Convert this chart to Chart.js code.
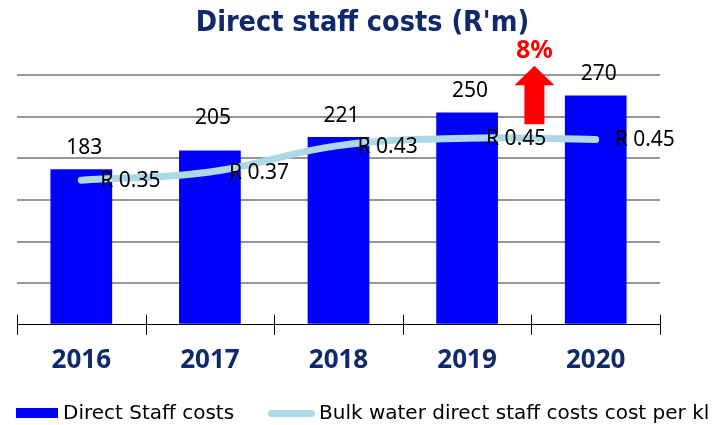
<!DOCTYPE html>
<html>
<head>
<meta charset="utf-8">
<title>Direct staff costs</title>
<script src="https://cdn.jsdelivr.net/npm/chart.js@4.4.0/dist/chart.umd.min.js"></script>
<style>
    html, body { margin: 0; padding: 0; background: #fff; }
    #wrap { position: relative; width: 716px; height: 425px; overflow: hidden; }
    .legend-text { position: absolute; top: 402px; font: 20px 'DejaVu Sans', sans-serif; line-height: 20px; color: #000; white-space: nowrap; }
    .swatch { position: absolute; }
</style>
</head>
<body>
<div id="wrap">
    <canvas id="staffChart" width="716" height="425"></canvas>
    <div id="legend"></div>
</div>
<script>
// Chart data
const years = ['2016', '2017', '2018', '2019', '2020'];
const staffCosts = [183, 205, 221, 250, 270];          // R'm
const costPerKl = [0.35, 0.37, 0.434, 0.452, 0.449];   // R per kl
const growthLabel = '8%';

const navy = '#10296a';
const barBlue = '#0000ff';
const lineBlue = '#add8e6';

// Draws value labels, the growth arrow and the crossing x tick marks
const annotations = {
    id: 'annotations',
    afterDatasetsDraw(chart, args, opts) {
        const ctx = chart.ctx;
        const x = chart.scales.x;
        const y = chart.scales.y;
        const area = chart.chartArea;

        ctx.save();
        ctx.fillStyle = '#000';
        ctx.font = "21px 'Noto Sans', sans-serif";

        // bar values
        const bars = chart.getDatasetMeta(1).data;
        ctx.textAlign = 'center';
        ctx.textBaseline = 'alphabetic';
        bars.forEach((bar, i) => {
            ctx.fillText(String(staffCosts[i]), bar.x + 3, bar.y - 15 - opts.barLift[i]);
        });

        // line values
        const points = chart.getDatasetMeta(0).data;
        ctx.textAlign = 'left';
        ctx.textBaseline = 'middle';
        points.forEach((pt, i) => {
            ctx.fillText('R ' + costPerKl[i].toFixed(2), pt.x + 19, pt.y + 1);
        });

        // growth arrow between the last two years
        const cx = x.getPixelForValue(years.length - 1.5) + 3;
        const tip = y.getPixelForValue(opts.arrowTop);
        const neck = y.getPixelForValue(opts.arrowNeck);
        const foot = y.getPixelForValue(opts.arrowBottom);
        ctx.fillStyle = '#ff0000';
        ctx.beginPath();
        ctx.moveTo(cx, tip);
        ctx.lineTo(cx + 20, neck);
        ctx.lineTo(cx + 10, neck);
        ctx.lineTo(cx + 10, foot);
        ctx.lineTo(cx - 10, foot);
        ctx.lineTo(cx - 10, neck);
        ctx.lineTo(cx - 20, neck);
        ctx.closePath();
        ctx.fill();

        ctx.font = "bold 25px 'Noto Sans', sans-serif";
        ctx.textAlign = 'center';
        ctx.textBaseline = 'alphabetic';
        ctx.fillText(growthLabel, cx, tip - 8);

        // tick marks crossing the axis at category boundaries
        ctx.strokeStyle = '#000';
        ctx.lineWidth = 1;
        const step = (area.right - area.left) / years.length;
        for (let i = 0; i <= years.length; i++) {
            const tx = Math.round(area.left + i * step) + 0.5;
            ctx.beginPath();
            ctx.moveTo(tx, area.bottom - 10);
            ctx.lineTo(tx, area.bottom + 10);
            ctx.stroke();
        }
        ctx.restore();
    }
};

const config = {
    data: {
        labels: years,
        datasets: [
            {
                type: 'line',
                label: 'Bulk water direct staff costs cost per kl',
                data: costPerKl,
                yAxisID: 'y2',
                borderColor: lineBlue,
                backgroundColor: lineBlue,
                borderWidth: 7,
                borderCapStyle: 'round',
                tension: 0.4,
                pointRadius: 0,
                order: 0
            },
            {
                type: 'bar',
                label: 'Direct Staff costs',
                data: staffCosts,
                yAxisID: 'y',
                backgroundColor: barBlue,
                barPercentage: 0.48,
                categoryPercentage: 1,
                order: 1
            }
        ]
    },
    options: {
        responsive: false,
        animation: false,
        devicePixelRatio: 1,
        layout: {
            padding: { left: 17, right: 8, top: 0, bottom: 29 }
        },
        plugins: {
            legend: { display: false },
            tooltip: { enabled: false },
            title: {
                display: true,
                text: "Direct staff costs (R'm)",
                color: navy,
                font: { family: "'DejaVu Sans Condensed', 'DejaVu Sans', sans-serif", size: 28.5, weight: 'bold' },
                padding: { top: 6, bottom: 34.8 }
            },
            annotations: {
                barLift: [0, 12, 0, 0, 0],
                arrowTop: 305,
                arrowNeck: 282,
                arrowBottom: 236
            }
        },
        scales: {
            x: {
                offset: true,
                grid: { display: false, drawTicks: false },
                border: { display: true, color: '#000', width: 1 },
                ticks: {
                    color: navy,
                    padding: 20,
                    font: { family: "'Noto Sans', sans-serif", size: 26, weight: 'bold' }
                }
            },
            y: {
                min: 0,
                max: 294,
                ticks: { display: false, stepSize: 49 },
                grid: {
                    color: c => c.tick && c.tick.value === 0 ? 'rgba(0,0,0,0)' : '#969696',
                    lineWidth: 2,
                    drawTicks: false
                },
                border: { display: false }
            },
            y2: {
                position: 'right',
                min: 0,
                max: 0.605,
                ticks: { display: false },
                grid: { display: false, drawTicks: false },
                border: { display: false },
                afterFit: scale => { scale.width = 48; }  // blank room on the right for the last label
            }
        }
    },
    plugins: [annotations]
};

const chart = new Chart(document.getElementById('staffChart'), config);

// Legend below the chart
function buildLegend() {
    const legend = document.getElementById('legend');
    legend.innerHTML =
        '<div class="swatch" style="left:16px;top:408px;width:42px;height:10px;background:' + barBlue + '"></div>' +
        '<div class="legend-text" style="left:63px">' + config.data.datasets[1].label + '</div>' +
        '<div class="swatch" style="left:268px;top:410px;width:47px;height:7px;border-radius:4px;background:' + lineBlue + '"></div>' +
        '<div class="legend-text" style="left:319px">' + config.data.datasets[0].label + '</div>';
}
buildLegend();
</script>
</body>
</html>
